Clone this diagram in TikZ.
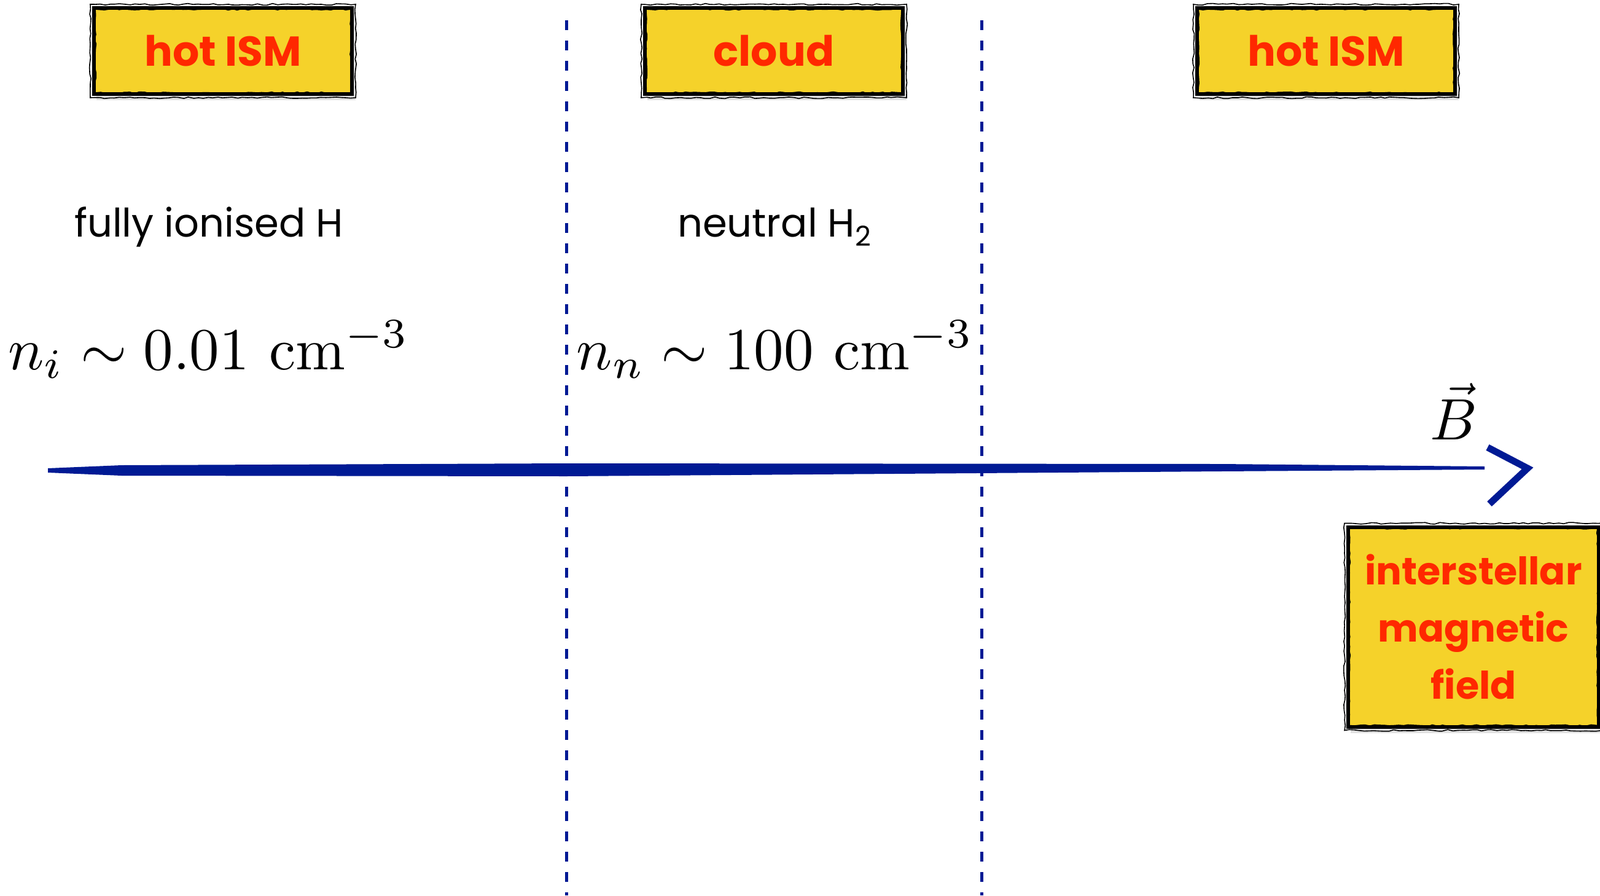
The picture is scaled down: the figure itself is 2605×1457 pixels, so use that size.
\documentclass[tikz,border=0pt]{standalone}
\usepackage{fontspec}
\newfontfamily\comic{Poppins}
\usetikzlibrary{calc,decorations.pathmorphing}
\definecolor{boxyellow}{RGB}{245,210,42}
\definecolor{labelred}{RGB}{255,40,0}
\definecolor{fieldblue}{RGB}{0,26,148}
\tikzset{
  sketchbox/.style={fill=boxyellow, draw=black, line width=3pt, inner sep=0pt,
    text=labelred, font=\comic\bfseries\fontsize{34}{46}\selectfont, align=center},
  plainlabel/.style={font=\comic\fontsize{32}{38}\selectfont, anchor=base},
  mathlabel/.style={anchor=base, inner sep=0pt},
  divider/.style={draw=fieldblue, line width=2.5pt, dash pattern=on 8pt off 8.5pt},
  roughedge/.style={draw=black, line width=0.8pt,
    decorate, decoration={random steps, segment length=4pt, amplitude=0.7pt}},
}
\begin{document}
\begin{tikzpicture}[x=0.5pt,y=-0.5pt]
\useasboundingbox (0,0) rectangle (2605,1457);

% dashed dividers
\coordinate (d1top) at (922,33);
\coordinate (d1bot) at (922,1457);
\coordinate (d2top) at (1598,33);
\coordinate (d2bot) at (1598,1457);
\draw[divider] (d1top) -- (d1bot);
\draw[divider] (d2top) -- (d2bot);

% boxes with soft shadow
\foreach \cx/\cy/\w/\h in {363/83/420/140, 1260/83/420/140, 2159/83/420/140, 2399/1020/408/325}{
  \fill[black, opacity=0.12] (\cx-\w/2+4, \cy-\h/2+8) rectangle (\cx+\w/2+6, \cy+\h/2+10);
}
\node[sketchbox, minimum width=210pt, minimum height=70pt] (hotL) at (363,83) {hot ISM};
\node[sketchbox, minimum width=210pt, minimum height=70pt] (cloud) at (1260,83) {cloud};
\node[sketchbox, minimum width=210pt, minimum height=70pt] (hotR) at (2159,83) {hot ISM};
\node[sketchbox, minimum width=204pt, minimum height=162.5pt, font=\comic\bfseries\fontsize{31}{46.5}\selectfont] (field) at (2399,1020) {interstellar\\magnetic\\field};
\foreach \nm in {hotL,cloud,hotR,field}{
  \draw[roughedge] ($(\nm.north west)+(-3,-3)$) rectangle ($(\nm.south east)+(3,3)$);
  \draw[roughedge] ($(\nm.north west)+(5,5)$) rectangle ($(\nm.south east)+(-5,-5)$);
}

% region texts
\node[plainlabel] (ion) at (340,385) {fully ionised H};
\node[plainlabel] (neu) at (1261,385) {neutral H\textsubscript{2}};
\node[mathlabel] (ni) at (340,601) {\scalebox{4.85}{$n_i\sim 0.01\ \mathrm{cm}^{-3}$}};
\node[mathlabel] (nn) at (1262,601) {\scalebox{4.85}{$n_n\sim 100\ \mathrm{cm}^{-3}$}};

% magnetic field arrow
\coordinate (Bstart) at (78,766);
\coordinate (Bmid) at (922,765);
\coordinate (Btip) at (2487,762);
\coordinate (barbA) at (2422,728);
\coordinate (barbB) at (2425,820);
\fill[fieldblue] ($(Bstart)+(0,-4)$) -- ($(Bstart)+(120,-9)$) -- ($(Bmid)+(0,-11)$) -- ($(Btip)+(-500,-7)$) -- ($(Btip)+(-70,-3)$)
  -- ($(Btip)+(-70,2)$) -- ($(Btip)+(-500,5)$) -- ($(Bmid)+(0,10)$) -- ($(Bstart)+(120,8)$) -- ($(Bstart)+(0,3)$) -- cycle;
\draw[fieldblue, line width=5.5pt, line join=miter] (barbA) -- (Btip) -- (barbB);
\node[anchor=base, inner sep=0pt] (Blabel) at (2367,715) {\scalebox{4.75}{$\vec{B}$}};
\end{tikzpicture}
\end{document}
